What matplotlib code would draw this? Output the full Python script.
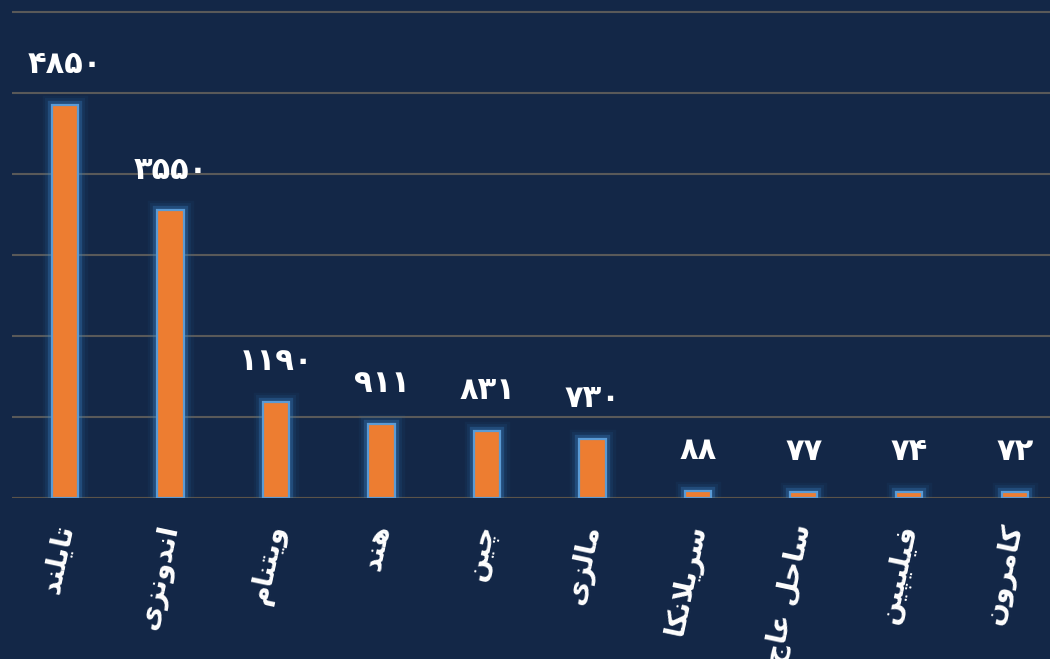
import matplotlib
matplotlib.use('Agg')
import matplotlib.pyplot as plt
import matplotlib.patheffects as pe

countries = ['تایلند', 'اندونزی', 'ویتنام', 'هند', 'چین', 'مالزی',
             'سریلانکا', 'ساحل عاج', 'فیلیپین', 'کامرون']
values = [4850, 3550, 1190, 911, 831, 730, 88, 77, 74, 72]

# presentation forms: isolated, final, initial, medial
FORMS = {
    'ا': ('\uFE8D', '\uFE8E', None, None),
    'د': ('\uFEA9', '\uFEAA', None, None),
    'ر': ('\uFEAD', '\uFEAE', None, None),
    'ز': ('\uFEAF', '\uFEB0', None, None),
    'و': ('\uFEED', '\uFEEE', None, None),
    'ت': ('\uFE95', '\uFE96', '\uFE97', '\uFE98'),
    'ی': ('\uFBFC', '\uFBFD', '\uFBFE', '\uFBFF'),
    'ل': ('\uFEDD', '\uFEDE', '\uFEDF', '\uFEE0'),
    'ن': ('\uFEE5', '\uFEE6', '\uFEE7', '\uFEE8'),
    'م': ('\uFEE1', '\uFEE2', '\uFEE3', '\uFEE4'),
    'ه': ('\uFEE9', '\uFEEA', '\uFEEB', '\uFEEC'),
    'چ': ('\uFB7A', '\uFB7B', '\uFB7C', '\uFB7D'),
    'س': ('\uFEB1', '\uFEB2', '\uFEB3', '\uFEB4'),
    'ک': ('\uFB8E', '\uFB8F', '\uFB90', '\uFB91'),
    'ح': ('\uFEA1', '\uFEA2', '\uFEA3', '\uFEA4'),
    'ع': ('\uFEC9', '\uFECA', '\uFECB', '\uFECC'),
    'ج': ('\uFE9D', '\uFE9E', '\uFE9F', '\uFEA0'),
    'ف': ('\uFED1', '\uFED2', '\uFED3', '\uFED4'),
    'پ': ('\uFB56', '\uFB57', '\uFB58', '\uFB59'),
}
LAM_ALEF = ('\uFEFB', '\uFEFC')


def joins_next(ch):
    return ch in FORMS and FORMS[ch][2] is not None


def shape(word):
    # join letters, then reverse for left-to-right drawing
    chars = list(word)
    out = []
    i = 0
    while i < len(chars):
        c = chars[i]
        prev = chars[i - 1] if i > 0 else ' '
        linked = joins_next(prev)
        if c == 'ل' and i + 1 < len(chars) and chars[i + 1] == 'ا':
            out.append(LAM_ALEF[1] if linked else LAM_ALEF[0])
            i += 2
            continue
        if c not in FORMS:
            out.append(c)
            i += 1
            continue
        nxt = chars[i + 1] if i + 1 < len(chars) else ' '
        to_next = joins_next(c) and nxt in FORMS
        iso, fin, ini, med = FORMS[c]
        if linked and to_next:
            out.append(med)
        elif linked:
            out.append(fin)
        elif to_next:
            out.append(ini)
        else:
            out.append(iso)
        i += 1
    return ''.join(reversed(out))


def fa_digits(n):
    return str(n).translate(str.maketrans('0123456789', '۰۱۲۳۴۵۶۷۸۹'))


bg = '#132747'
fig = plt.figure(figsize=(10.5, 6.59), dpi=100, facecolor=bg)
ax = fig.add_axes([12 / 1050, 161 / 659, 1.0053, 498 / 659])
ax.set_facecolor(bg)

x = range(len(countries))
bars = ax.bar(x, values, width=0.25, color='#ED7D31', edgecolor='#5B9BD5',
              linewidth=1.6, zorder=3)
glow = [pe.Stroke(linewidth=14, foreground='#2E75B6', alpha=0.07),
        pe.Stroke(linewidth=10, foreground='#2E75B6', alpha=0.12),
        pe.Stroke(linewidth=6, foreground='#3C86C9', alpha=0.3),
        pe.Normal()]
for b in bars:
    b.set_path_effects(glow)

for xi, v in zip(x, values):
    ax.text(xi, v + 320, fa_digits(v), ha='center', va='bottom', color='white',
            fontsize=22, fontweight='bold', family='DejaVu Sans')

ax.set_xlim(-0.5, 9.5)
ax.set_ylim(0, 6148)
ax.set_yticks(range(0, 7000, 1000))
ax.yaxis.grid(True, color='#595959', linewidth=1.5, zorder=0)
ax.tick_params(left=False, labelleft=False, bottom=False, labelbottom=False)
for s in ax.spines.values():
    s.set_visible(False)
ax.axhline(0, color='#5b5349', linewidth=1.5, zorder=2)

for xi, name in zip(x, countries):
    ax.text(xi, -330, shape(name), rotation=78, rotation_mode='anchor',
            ha='right', va='center', color='white', fontsize=20,
            fontweight='bold', family='DejaVu Sans')

fig.savefig('out.png', dpi=100, facecolor=bg)
